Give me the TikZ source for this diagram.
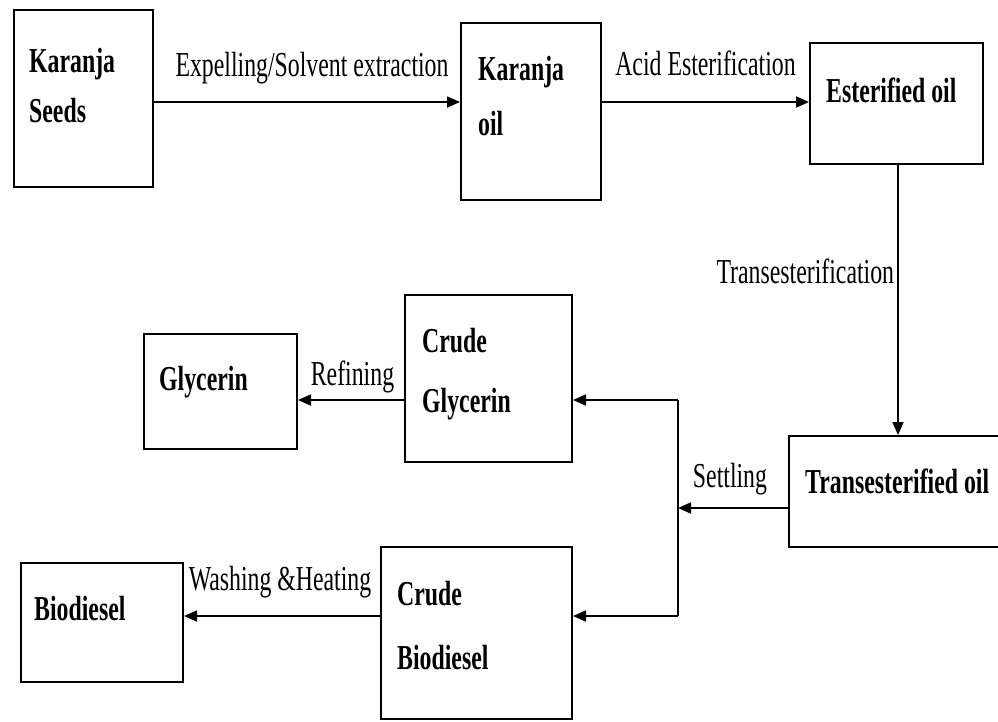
\documentclass[tikz,border=0pt]{standalone}
\usepackage{fontspec}
\setmainfont{Liberation Serif}[FakeStretch=0.68]
\usetikzlibrary{arrows.meta}

\begin{document}
\begin{tikzpicture}[x=1pt, y=-1pt,
  box/.style 2 args={rectangle, draw, line width=2pt, inner sep=0pt,
              minimum width=#1pt, minimum height=#2pt},
  boxtext/.style={anchor=base west, inner sep=0pt,
              font=\fontsize{35}{42}\selectfont\bfseries},
  lbl/.style={inner sep=0pt, font=\fontsize{35}{42}\selectfont},
  arrow/.style={-{Triangle[length=13pt, width=11pt]}, line width=1.8pt}
]
\useasboundingbox (0,0) rectangle (998,721);

% top row
\node[box={139}{177}] (seeds) at (83.5,98.5) {};
\node[boxtext] (seedsA) at (29,72) {Karanja};
\node[boxtext] (seedsB) at (29,122) {Seeds};

\node[box={140}{177}] (koil) at (531,111.5) {};
\node[boxtext] (koilA) at (478,80) {Karanja};
\node[boxtext] (koilB) at (478,135) {oil};

\node[box={173}{121}] (esoil) at (896.5,103.5) {};
\node[boxtext] (esoilA) at (826,102) {Esterified oil};

% right side
\node[box={211}{111}] (transoil) at (894.5,491.5) {};
\node[boxtext] (transoilA) at (805,493) {Transesterified oil};

% products
\node[box={167}{167}] (cglyc) at (488.5,378.5) {};
\node[boxtext] (cglycA) at (422,352) {Crude};
\node[boxtext] (cglycB) at (422,412) {Glycerin};

\node[box={153}{115}] (glyc) at (220.5,391.5) {};
\node[boxtext] (glycA) at (159,390) {Glycerin};

\node[box={191}{172}] (cbio) at (476.5,633) {};
\node[boxtext] (cbioA) at (397,605) {Crude};
\node[boxtext] (cbioB) at (397,669) {Biodiesel};

\node[box={162}{119}] (bio) at (102,622.5) {};
\node[boxtext] (bioA) at (34,620) {Biodiesel};

% connectors
\coordinate (row1) at (0,102);
\coordinate (split) at (678,508);
\coordinate (jtop) at (678,400);
\coordinate (jbot) at (678,616);

\draw[arrow] (seeds.east |- row1) -- node[lbl, anchor=base, xshift=5pt, yshift=26pt] (expel)
  {Expelling/Solvent extraction} (koil.west |- row1);
\draw[arrow] (koil.east |- row1) -- node[lbl, anchor=base, yshift=27pt] (acid)
  {Acid Esterification} (esoil.west |- row1);
\draw[arrow] ([xshift=1.5pt]esoil.south) -- node[lbl, anchor=base east, xshift=-3pt, yshift=17pt] (trans)
  {Transesterification} ([xshift=1.5pt]esoil.south |- transoil.north);
\draw[arrow] (transoil.west |- split) -- node[lbl, anchor=base, xshift=-3pt, yshift=21pt] (settle)
  {Settling} (split);
\draw[line width=1.8pt] (jtop) -- (jbot);
\draw[arrow] (jtop) -- (jtop -| cglyc.east);
\draw[arrow] (jbot) -- (jbot -| cbio.east);
\draw[arrow] (cglyc.west |- jtop) -- node[lbl, anchor=base, xshift=1.5pt, yshift=15pt] (refine)
  {Refining} (glyc.east |- jtop);
\draw[arrow] (cbio.west |- jbot) -- node[lbl, anchor=base, xshift=-2pt, yshift=26pt] (wash)
  {Washing \&Heating} (bio.east |- jbot);
\end{tikzpicture}
\end{document}
